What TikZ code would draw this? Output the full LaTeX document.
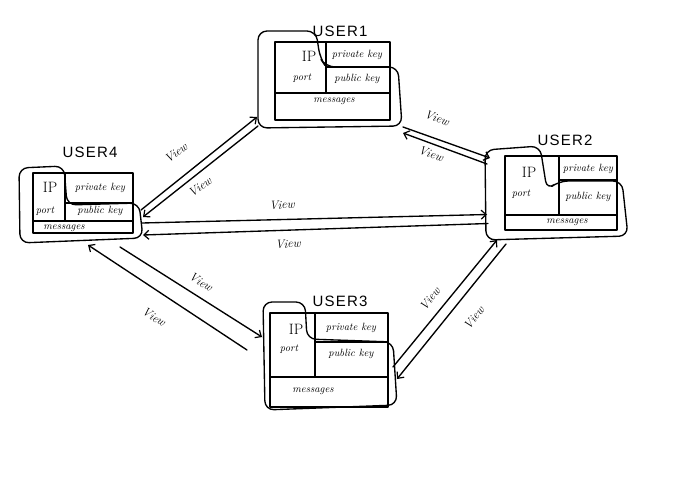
\documentclass[tikz,border=0pt]{standalone}
\usepackage{fontspec}
\newfontfamily\capsfont[LetterSpace=8]{Liberation Sans}
\usetikzlibrary{arrows.meta,calc}

\begin{document}
\begin{tikzpicture}[x=1pt,y=-1pt,
  ink/.style={line width=1.35pt, line cap=round, line join=round},
  blob/.style={ink, rounded corners=9pt},
  hull/.style={draw=none, inner sep=0pt, outer sep=0pt},
  link/.style={ink, -{Straight Barb[length=5pt,width=9pt,line width=1.2pt]}},
  title/.style={font=\capsfont\fontsize{15}{15}\selectfont, inner sep=0pt},
  word/.style={font=\itshape\fontsize{10.5}{10.5}\selectfont, inner sep=0pt},
  bigword/.style={font=\fontsize{15}{15}\selectfont, inner sep=0pt},
  tag/.style={font=\itshape\fontsize{12}{12}\selectfont, inner sep=0pt}
]
\useasboundingbox[fill=white] (0,0) rectangle (681,487);

% frames around each user record (used as connector anchors)
\node[hull, minimum width=144pt, minimum height=98pt] (u1) at (330,79) {};
\node[hull, minimum width=144pt, minimum height=95pt] (u2) at (556,192.5) {};
\node[hull, minimum width=138pt, minimum height=110pt] (u3) at (329,355) {};
\node[hull, minimum width=125pt, minimum height=78pt] (u4) at (80.5,204) {};

% ---------- USER1 ----------
\draw[blob] (316,31) -- (320,58) -- (326,67) -- (398,67) -- (402,126) -- (258,128) -- (258,31) -- cycle;
\draw[ink] (275,42) rectangle (390,120);
\draw[ink] (326,42) -- (326,93) (275,93) -- (390,93) (326,67) -- (390,67);
\node[title] (t1) at (340,31) {USER1};
\node[bigword] (ip1) at (309,56) {IP};
\node[word] (pk1) at (357,55) {private key};
\node[word] (po1) at (302,78) {port};
\node[word] (pb1) at (357,79) {public key};
\node[word] (ms1) at (334,101) {messages};

% ---------- USER2 ----------
\draw[blob] (540,146) -- (547,190) -- (559,181) -- (622,181) -- (628,236) -- (486,240) -- (485,150) -- cycle;
\draw[ink] (505,156) rectangle (617,230);
\draw[ink] (559,156) -- (559,215) (505,215) -- (617,215) (559,180) -- (617,180);
\node[title] (t2) at (565,140) {USER2};
\node[bigword] (ip2) at (529,172) {IP};
\node[word] (pk2) at (588,169) {private key};
\node[word] (po2) at (521,194) {port};
\node[word] (pb2) at (588,197) {public key};
\node[word] (ms2) at (567,222) {messages};

% ---------- USER3 ----------
\draw[blob] (305,302) -- (307,339) -- (393,342) -- (397,405) -- (265,410) -- (263,302) -- cycle;
\draw[ink] (270,313) rectangle (388,407);
\draw[ink] (315,313) -- (315,377) (270,377) -- (388,377) (315,342) -- (388,342);
\node[title] (t3) at (340,301) {USER3};
\node[bigword] (ip3) at (296,329) {IP};
\node[word] (pk3) at (351,328) {private key};
\node[word] (po3) at (289,349) {port};
\node[word] (pb3) at (351,354) {public key};
\node[word] (ms3) at (313,391) {messages};

% ---------- USER4 ----------
\draw[blob] (64,166) -- (67,205) -- (139,203) -- (143,238) -- (20,243) -- (19,168) -- cycle;
\draw[ink] (33,173) rectangle (133,233);
\draw[ink] (65,173) -- (65,221) (33,221) -- (133,221) (65,203) -- (133,203);
\node[title] (t4) at (90,152) {USER4};
\node[bigword] (ip4) at (50,187) {IP};
\node[word] (pk4) at (100,188) {private key};
\node[word] (po4) at (45,211) {port};
\node[word] (pb4) at (100,211) {public key};
\node[word] (ms4) at (64,228) {messages};

% ---------- views between users ----------
% USER4 <-> USER1
\draw[link] ($(u4.east)+(-2,6)$) -- ($(u1.south west)+(-1,-11)$);
\draw[link] ($(u1.south west)+(0,-2)$) -- ($(u4.east)+(0,13)$);
\node[tag, rotate=38] (v41) at (176,153) {View};
\node[tag, rotate=36] (v14) at (200,187) {View};

% USER1 <-> USER2
\draw[link] ($(u1.south east)+(1,-1)$) -- ($(u2.north west)+(6,13)$);
\draw[link] ($(u2.north west)+(3,19)$) -- ($(u1.south east)+(1,5)$);
\node[tag, rotate=-20] (v12) at (437,118) {View};
\node[tag, rotate=-18] (v21) at (431,154) {View};

% USER4 <-> USER2
\draw[link] ($(u4.east)+(-1,19)$) -- ($(u2.west)+(3,22)$);
\draw[link] ($(u2.west)+(4,31)$) -- ($(u4.east)+(0,31)$);
\node[tag, rotate=2] (v42) at (282,205) {View};
\node[tag, rotate=2] (v24) at (288,244) {View};

% USER4 <-> USER3
\draw[link] ($(u4.south east)+(-23,4)$) -- ($(u3.west)+(2,-18)$);
\draw[link] ($(u3.west)+(-13,-5)$) -- ($(u4.south west)+(70,2)$);
\node[tag, rotate=-32] (v43) at (201,282) {View};
\node[tag, rotate=-32] (v34) at (154,317) {View};

% USER3 <-> USER2
\draw[link] ($(u3.east)+(-5,12)$) -- ($(u2.south west)+(13,0)$);
\draw[link] ($(u2.south west)+(22,4)$) -- ($(u3.east)+(-1,24)$);
\node[tag, rotate=52] (v32) at (430,299) {View};
\node[tag, rotate=52] (v23) at (474,318) {View};
\end{tikzpicture}
\end{document}
